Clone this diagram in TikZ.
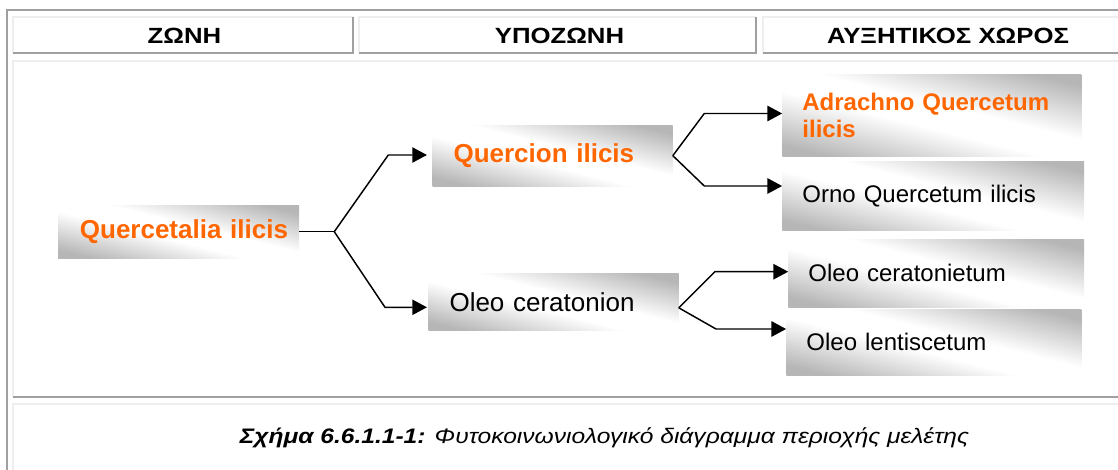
\documentclass[tikz,border=0pt]{standalone}
\usepackage{fontspec}
\setmainfont{Liberation Sans}
\newfontfamily\widefont[FakeStretch=1.17]{Liberation Sans}
\usetikzlibrary{arrows.meta,positioning}
\definecolor{accent}{RGB}{255,102,0}
\definecolor{ruledark}{RGB}{160,160,160}
\definecolor{rulelight}{RGB}{238,238,238}
\definecolor{shadegray}{RGB}{182,182,182}
\pgfdeclareverticalshading{gloss}{100bp}{color(0bp)=(shadegray); color(24bp)=(shadegray); color(45bp)=(white); color(55bp)=(white); color(76bp)=(shadegray); color(100bp)=(shadegray)}

\begin{document}
\begin{tikzpicture}[
    x=0.75pt, y=-0.75pt,
    shaded/.style={shading=gloss, shading angle=-14, inner ysep=0pt},
    zonebox/.style={shaded, align=right, text width=164.25pt, inner xsep=8.25pt, minimum height=40pt, font=\fontsize{19.5}{22}\selectfont},
    subbox/.style={shaded, align=left, inner xsep=15.75pt, font=\fontsize{19.5}{22}\selectfont},
    sitebox/.style={shaded, align=left, inner xsep=15pt, font=\fontsize{18}{20.7}\selectfont},
    head/.style={font=\widefont\fontsize{16.5}{19}\selectfont\bfseries},
    darkrule/.style={draw=ruledark, line width=1.5pt},
    lightrule/.style={draw=rulelight, line width=1.5pt},
    link/.style={line width=1.1pt},
    branch/.style={link, -{Triangle[length=11pt, width=11.5pt]}}
]
\useasboundingbox (0,0) rectangle (1118,470);
\clip (0,0) rectangle (1118,470);

% table frame
\draw[darkrule] (7,480) -- (7,10) -- (1130,10);
\foreach \xa/\xb in {13/353, 359/756, 763/1133} {
    \draw[lightrule] (\xa,53.5) -- (\xa,17) -- (\xb,17);
    \draw[darkrule] (\xa,53.5) -- (\xb,53.5) -- (\xb,17);
}
\draw[lightrule] (13,397) -- (13,61) -- (1130,61);
\draw[darkrule] (13,397) -- (1130,397);
\draw[lightrule] (13,480) -- (13,404) -- (1130,404);

% header row
\node[head] (zone) at (184.5,35.5) {ΖΩΝΗ};
\node[head] (subzone) at (559.5,35.5) {ΥΠΟΖΩΝΗ};
\node[head] (site) at (948,35.5) {ΑΥΞΗΤΙΚΟΣ ΧΩΡΟΣ};

% boxes
\node[zonebox, text=accent] (root) at (178.5,231.7) {\textbf{Quercetalia ilicis}};
\node[subbox, text width=148.5pt, minimum height=45.75pt, above right=13.75pt and 99.75pt of root, text=accent] (quercion) {\textbf{Quercion ilicis}};
\node[subbox, text width=156pt, minimum height=42.5pt, below right=11.25pt and 96.75pt of root] (ceratonion) {Oleo ceratonion};
\node[sitebox, text width=194.25pt, minimum height=61.5pt, right=82pt of quercion, yshift=30.15pt, text=accent] (adrachno) {\textbf{Adrachno Quercetum}\\\textbf{ilicis}};
\node[sitebox, text width=196.3pt, minimum height=51.75pt, below=3.5pt of adrachno.south west, anchor=north west] (orno) {Orno Quercetum ilicis};
\node[sitebox, text width=191.8pt, minimum height=50.8pt, below=6.2pt of orno.south west, anchor=north west, xshift=4.5pt] (ceratonietum) {Oleo ceratonietum};
\node[sitebox, text width=191.25pt, minimum height=49.5pt, below=1.2pt of ceratonietum.south west, anchor=north west, xshift=-1.5pt] (lentiscetum) {Oleo lentiscetum};

% connectors
\coordinate (fork) at ([xshift=26.25pt]root.east);
\coordinate (up1) at (388.3,155);
\coordinate (down1) at (385,307.3);
\draw[link] (root) -- (fork);
\draw[branch, shorten >=4pt] (fork) -- (up1) -- (up1 -| quercion.west);
\draw[branch, shorten >=1pt] (fork) -- (down1) -- (down1 -| ceratonion.west);

\coordinate (up2) at (704.3,113.5);
\coordinate (down2) at (704.3,186);
\draw[branch] (quercion.east) -- (up2) -- (up2 -| adrachno.west);
\draw[branch] (quercion.east) -- (down2) -- (down2 -| orno.west);

\coordinate (fork3) at ([yshift=-4.2pt]ceratonion.east);
\coordinate (up3) at (715,271.7);
\coordinate (down3) at (716,329);
\draw[branch] (fork3) -- (up3) -- (up3 -| ceratonietum.west);
\draw[branch] (fork3) -- (down3) -- (down3 -| lentiscetum.west);

% caption
\node[font=\widefont\fontsize{15.75}{18}\selectfont\itshape, anchor=base] (caption) at (604.5,443) {\textbf{Σχήμα 6.6.1.1-1:} Φυτοκοινωνιολογικό διάγραμμα περιοχής μελέτης};
\end{tikzpicture}
\end{document}
